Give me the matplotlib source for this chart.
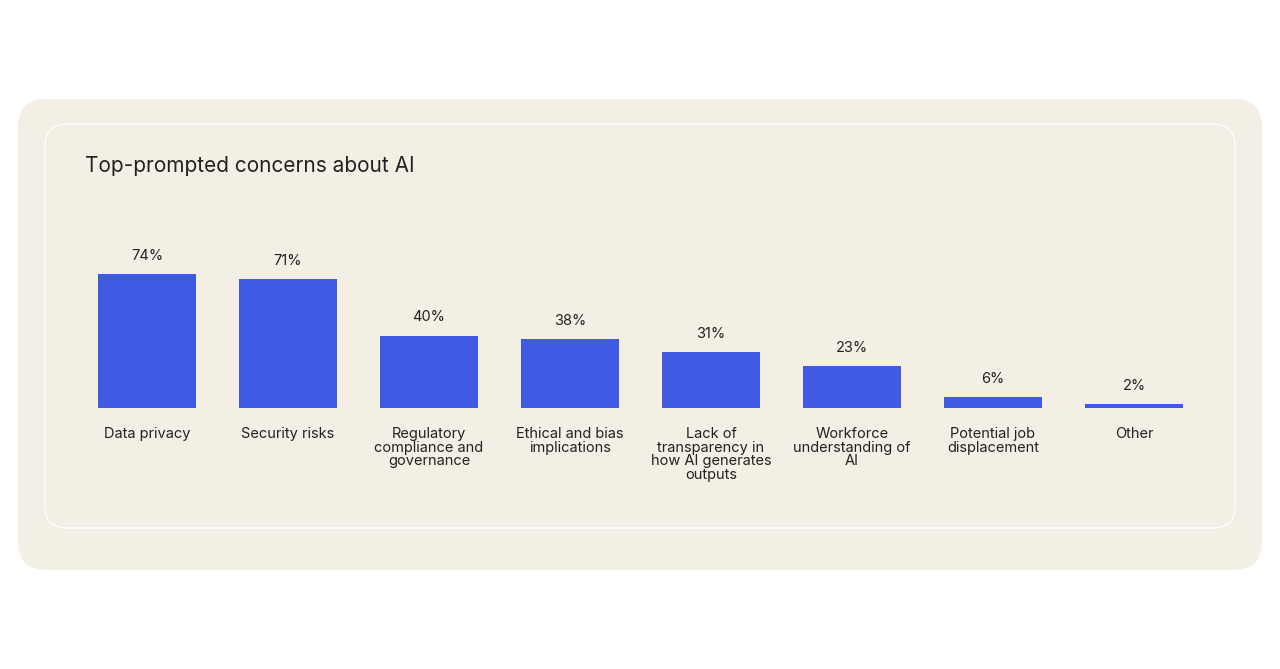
import matplotlib.pyplot as plt
from matplotlib.patches import FancyBboxPatch

plt.rcParams['font.family'] = ['Inter', 'DejaVu Sans']

categories = ["Data privacy", "Security risks", "Regulatory\ncompliance and\ngovernance",
              "Ethical and bias\nimplications", "Lack of\ntransparency in\nhow AI generates\noutputs",
              "Workforce\nunderstanding of\nAI", "Potential job\ndisplacement", "Other"]
values = [74, 71, 40, 38, 31, 23, 6, 2]
title = "Top-prompted concerns about AI"

bar_color = "#405AE3"
bg_color = "#F3EFE5"
text_color = "#222222"

W, H = 1280, 669
fig = plt.figure(figsize=(W / 100, H / 100), dpi=100)
fig.patch.set_facecolor("white")

# background card, in pixel coords
bg = fig.add_axes([0, 0, 1, 1])
bg.set_xlim(0, W); bg.set_ylim(H, 0); bg.axis("off")
bg.add_patch(FancyBboxPatch((18 + 28, 99 + 28), 1244 - 56, 471 - 56,
                            boxstyle="round,pad=28", fc=bg_color, ec="none"))
bg.add_patch(FancyBboxPatch((45 + 22, 124 + 22), 1190 - 44, 404 - 44,
                            boxstyle="round,pad=22", fc="none", ec="white", lw=0.9))
bg.text(85, 166, title, fontsize=15, color=text_color, va="center", ha="left")

# bar axes: baseline at y=408 px, x from 78 to 1202 px
base_px, top_px = 408, 200
ax = fig.add_axes([78 / W, (H - base_px) / H, (1202 - 78) / W, (base_px - top_px) / H])
ax.set_facecolor("none")
step = 141.0
xs = list(range(len(values)))
ax.bar(xs, values, width=98 / step, color=bar_color, zorder=2)
ax.set_xlim(-(147 - 78) / step, 7 + (1202 - 1134) / step)
ax.set_ylim(0, (base_px - top_px) / 1.81)
ax.axhline(0, color="white", lw=1.0, zorder=1)
for s in ax.spines.values():
    s.set_visible(False)
ax.set_yticks([])
ax.set_xticks(xs)
ax.set_xticklabels(categories, fontsize=10.5, color=text_color, linespacing=0.95, va="top")
ax.tick_params(axis="x", length=0, pad=14)
for x, v in zip(xs, values):
    ax.annotate(f"{v}%", (x, v), xytext=(0, 8), textcoords="offset points",
                ha="center", va="bottom", fontsize=10.5, color=text_color)

fig.savefig("out.png", dpi=100, facecolor="white")
